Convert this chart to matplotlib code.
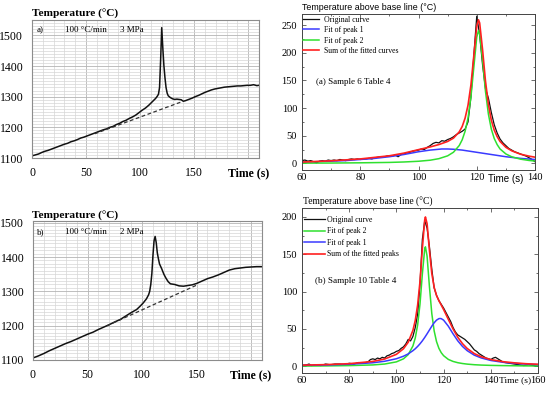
import matplotlib
matplotlib.use("Agg")
import matplotlib.pyplot as plt
from matplotlib.ticker import MultipleLocator

# ── Palette / fonts ──────────────────────────────────────────────────────────
SERIF = "Liberation Serif"
SANS = "Liberation Sans"
BLACK = "#111111"
BLUE = "#3a3aff"
GREEN = "#2fe02f"
RED = "#ff2020"
GRID_MINOR = "#d6d6d6"
GRID_MAJOR = "#b4b4b4"
FRAME = "#8c8c8c"

W, H = 550, 396

# ── Data: (a) 100 °C/min, 3 MPa ──────────────────────────────────────────────
time_a = [0, 3, 6, 9, 12, 15, 18, 21, 24, 27, 30, 33, 36, 39, 42, 45, 48, 51,
          54, 57, 60, 63, 66, 69, 72, 75, 78, 81, 84, 87, 90, 93, 96, 99, 102,
          105, 108, 110, 112, 114, 115, 116, 117, 118, 119, 120, 121, 122, 123,
          124, 125, 126, 128, 130, 132, 134, 136, 138, 140, 142, 145, 148, 151,
          154, 157, 160, 163, 166, 169, 172, 175, 178, 181, 184, 187, 190, 193,
          196, 199, 202, 205, 208, 210]
temp_a = [1107, 1110, 1113, 1118, 1122, 1125, 1129, 1133, 1137, 1141, 1145,
          1148, 1153, 1156, 1160, 1165, 1168, 1172, 1176, 1180, 1184, 1188,
          1192, 1195, 1200, 1203, 1209, 1213, 1219, 1223, 1229, 1234, 1240,
          1248, 1256, 1263, 1272, 1279, 1286, 1293, 1297, 1302, 1308, 1330,
          1420, 1525, 1460, 1402, 1362, 1330, 1312, 1303, 1297, 1293, 1291,
          1292, 1291, 1290, 1285, 1287, 1291, 1295, 1300, 1304, 1309, 1314,
          1318, 1322, 1325, 1327, 1329, 1331, 1332, 1333, 1334, 1335, 1335,
          1336, 1337, 1337, 1339, 1336, 1337]
base_a_t = [58, 139]
base_a_T = [1179, 1284]

# ── Data: (b) 100 °C/min, 2 MPa ──────────────────────────────────────────────
time_b = [0, 5, 10, 15, 20, 25, 30, 35, 40, 45, 50, 55, 60, 65, 70, 75, 80,
          85, 90, 95, 98, 101, 104, 106, 107, 108, 109, 110, 111, 112, 113, 114,
          115, 116, 118, 120, 122, 124, 126, 130, 134, 138, 142, 146, 150, 155,
          160, 165, 170, 175, 180, 185, 190, 195, 200, 205, 210]
temp_b = [1106, 1112, 1119, 1127, 1134, 1141, 1148, 1154, 1161, 1168, 1175,
          1181, 1189, 1196, 1203, 1211, 1218, 1228, 1238, 1247, 1256, 1266,
          1278, 1290, 1300, 1320, 1352, 1405, 1447, 1460, 1442, 1412, 1395,
          1380, 1366, 1350, 1338, 1328, 1322, 1320, 1316, 1315, 1317, 1319,
          1323, 1330, 1337, 1342, 1348, 1355, 1362, 1366, 1368, 1370, 1371,
          1372, 1372]
base_b_t = [68, 150]
base_b_T = [1200, 1318]

# ── Data: (a) Sample 6 Table 4 (peak fit) ────────────────────────────────────
orig_a_t = list(range(60, 141))
orig_a = [5, 6, 4, 5, 3, 1, 4, 5, 4, 6, 5, 6, 5, 7, 6, 5, 7, 8, 7, 8, 7, 8, 8,
          9, 8, 10, 11, 12, 11, 13, 14, 13, 15, 12, 16, 17, 19, 20, 22, 23, 24,
          26, 25, 29, 32, 36, 38, 37, 41, 40, 43, 45, 48, 52, 55, 58, 62, 75,
          120, 195, 266, 232, 178, 135, 118, 92, 70, 55, 44, 37, 32, 27, 24,
          21, 19, 17, 15, 13, 10, 7, 3]
fit1_a_t = [60, 65, 70, 75, 80, 85, 90, 95, 100, 104, 108, 110, 112, 115, 120,
            125, 130, 135, 140]
fit1_a = [2, 3, 4, 5, 7, 9, 12, 16, 21, 24, 26, 26, 25.5, 24, 20, 16, 12, 9, 7]
fit_a_t = [60, 70, 80, 90, 95, 100, 104, 107, 110, 112, 114, 115, 116, 117,
           118, 119, 120, 120.6, 121, 122, 123, 124, 125, 126, 127, 128, 130,
           132, 135, 138, 140]
fit2_a = [0.4, 0.6, 1.0, 1.7, 2.5, 3.8, 5.7, 8.5, 13.6, 20.1, 32.3, 42.6, 58,
          82, 120, 174, 228, 240, 234, 186, 130, 89, 62, 45, 34, 26, 17, 11.9,
          7.6, 5.2, 4.2]
sum_a = [2.4, 4.6, 8, 13.7, 18.5, 24.8, 29.7, 34, 39.6, 45.6, 57, 66.6, 81.8,
         105, 141.6, 194.8, 248, 259.5, 253.8, 205.2, 148.4, 106.6, 78, 60.2,
         48.4, 39.6, 29, 22.7, 16.6, 13, 11.2]

# ── Data: (b) Sample 10 Table 4 (peak fit) ───────────────────────────────────
orig_b_t = [60, 62, 63, 64, 66, 68, 70, 72, 74, 76, 78, 80, 82, 84, 86, 88, 89,
            90, 91, 92, 93, 94, 95, 96, 97, 98, 99, 100, 101, 102, 103, 104,
            105, 106, 107, 108, 109, 110, 111, 112, 113, 114, 115, 116, 117,
            118, 119, 120, 121, 122, 123, 124, 125, 126, 127, 128, 129, 130,
            131, 132, 133, 134, 135, 136, 137, 138, 139, 140, 141, 142, 143,
            144, 145, 146, 148, 150, 152, 154, 156, 158, 160]
orig_b = [1, 2, 3, 1, 2, 1, 3, 2, 3, 3, 2, 4, 3, 5, 4, 6, 9, 10, 9, 11, 10, 12,
          11, 14, 15, 17, 18, 20, 21, 24, 26, 30, 36, 34, 40, 52, 70, 110, 170,
          195, 185, 160, 130, 105, 95, 88, 83, 78, 72, 66, 60, 52, 46, 42, 40,
          38, 36, 33, 30, 26, 22, 20, 17, 15, 13, 11, 10, 9, 11, 12, 10, 8, 6,
          5, 4, 3, 2, 1, 2, 1, 0]
fit1_b_t = [60, 70, 80, 90, 95, 100, 103, 105, 107, 108, 109, 110, 111, 112,
            113, 114, 115, 116, 117, 118, 118.5, 119, 120, 122, 124, 126, 128,
            130, 133, 136, 140, 145, 150, 155, 160]
fit1_b = [1.2, 1.7, 2.7, 4.7, 6.7, 10.1, 13.5, 16.6, 20.9, 23.5, 26.6, 30.1,
          34.1, 38.6, 43.5, 48.6, 53.7, 58.3, 61.8, 63.8, 64, 63.8, 61.8, 53.7,
          43.5, 34.1, 26.6, 20.9, 14.9, 11.1, 7.8, 5.4, 3.9, 2.9, 2.3]
fit_b_t = [60, 70, 80, 90, 95, 100, 103, 105, 107, 108, 109, 110, 111, 112,
           112.3, 113, 114, 115, 116, 117, 118, 119, 120, 122, 124, 126, 128,
           130, 133, 136, 140, 145, 150, 155, 160]
fit2_b = [0.3, 0.5, 0.9, 1.8, 3.0, 5.9, 10, 15.6, 27.2, 38, 55.4, 83.4, 123.7,
          157.5, 160, 147.5, 106.5, 70.6, 47.4, 33.1, 24.1, 18.2, 14.2, 9.2,
          6.5, 4.8, 3.7, 2.9, 2.1, 1.6, 1.2, 0.9, 0.7, 0.5, 0.4]
sum_b = [1.5, 2.2, 3.5, 6.5, 9.7, 16, 23.5, 32.2, 48.1, 61.5, 82, 113.5, 157.8,
         196.1, 200, 191, 155.1, 124.3, 105.7, 94.9, 87.9, 82, 76, 62.9, 50,
         38.9, 30.3, 23.8, 17, 12.7, 9, 6.2, 4.6, 3.4, 2.7]


def rect(left, top, right, bottom):
    return [left / W, 1 - bottom / H, (right - left) / W, (bottom - top) / H]


def fx(x):
    return x / W


def fy(y):
    return 1 - y / H


def style_left(ax, ytop):
    ax.set_xlim(0, 210)
    ax.set_ylim(1100, ytop)
    ax.set_xticks([0, 50, 100, 150, 200])
    ax.set_xticklabels(["0", "50", "100", "150", "Time (s)"])
    ax.get_xticklabels()[-1].set_fontweight("bold")
    ax.set_yticks([1100, 1200, 1300, 1400, 1500])
    ax.xaxis.set_minor_locator(MultipleLocator(10))
    ax.yaxis.set_minor_locator(MultipleLocator(10))
    ax.grid(which="minor", color=GRID_MINOR, linewidth=0.5)
    ax.grid(which="major", color=GRID_MAJOR, linewidth=0.6)
    ax.set_axisbelow(True)
    ax.tick_params(which="both", length=0, labelsize=8.5)
    ax.tick_params(axis="x", pad=6.5)
    ax.tick_params(axis="y", pad=6.3)
    for lab in ax.get_xticklabels() + ax.get_yticklabels():
        lab.set_fontfamily(SERIF)
    for sp in ax.spines.values():
        sp.set_color(FRAME)
        sp.set_linewidth(0.8)


def style_right(ax, xlim, ylim, xmaj, ymaj):
    ax.set_xlim(*xlim)
    ax.set_ylim(*ylim)
    ax.xaxis.set_major_locator(MultipleLocator(xmaj))
    ax.xaxis.set_minor_locator(MultipleLocator(xmaj / 2))
    ax.yaxis.set_major_locator(MultipleLocator(ymaj))
    ax.yaxis.set_minor_locator(MultipleLocator(ymaj / 2))
    ax.tick_params(which="both", direction="in", top=True, right=True,
                   labelsize=7.5, width=0.6, color="#555555")
    ax.tick_params(which="major", length=3)
    ax.tick_params(which="minor", length=1.6)
    ax.tick_params(axis="x", pad=2)
    ax.tick_params(axis="y", pad=3.5)
    for lab in ax.get_xticklabels() + ax.get_yticklabels():
        lab.set_fontfamily(SERIF)
    for sp in ax.spines.values():
        sp.set_color("#444444")
        sp.set_linewidth(0.7)


fig = plt.figure(figsize=(W / 100, H / 100), dpi=100, facecolor="white")

# ── (a) temperature record ───────────────────────────────────────────────────
ax1 = fig.add_axes(rect(32, 20, 259, 158))
ax1.plot(time_a, temp_a, color=BLACK, linewidth=1.1)
ax1.plot(base_a_t, base_a_T, color="#333333", linewidth=0.9, linestyle=(0, (3, 2)))
style_left(ax1, 1550)
fig.text(fx(32), fy(14), "Temperature (°C)", family=SERIF, weight="bold",
         fontsize=8.2, va="center", ha="left")
fig.text(fx(37), fy(30), "a)", family=SERIF, fontsize=6.5, va="center")
fig.text(fx(65), fy(30), "100 °C/min", family=SERIF, fontsize=6.5, va="center")
fig.text(fx(120), fy(30), "3 MPa", family=SERIF, fontsize=6.5, va="center")

# ── (b) temperature record ───────────────────────────────────────────────────
ax2 = fig.add_axes(rect(33, 221, 262, 360))
ax2.plot(time_b, temp_b, color=BLACK, linewidth=1.1)
ax2.plot(base_b_t, base_b_T, color="#333333", linewidth=0.9, linestyle=(0, (3, 2)))
style_left(ax2, 1505)
fig.text(fx(32), fy(216), "Temperature (°C)", family=SERIF, weight="bold",
         fontsize=8.2, va="center", ha="left")
fig.text(fx(37), fy(232), "b)", family=SERIF, fontsize=6.5, va="center")
fig.text(fx(65), fy(232), "100 °C/min", family=SERIF, fontsize=6.5, va="center")
fig.text(fx(120), fy(232), "2 MPa", family=SERIF, fontsize=6.5, va="center")

# ── (a) Sample 6 fit ─────────────────────────────────────────────────────────
ax3 = fig.add_axes(rect(302, 14, 535, 170))
h_o, = ax3.plot(orig_a_t, orig_a, color=BLACK, linewidth=0.9)
h_1, = ax3.plot(fit1_a_t, fit1_a, color=BLUE, linewidth=1.1)
h_2, = ax3.plot(fit_a_t, fit2_a, color=GREEN, linewidth=1.1)
h_s, = ax3.plot(fit_a_t, sum_a, color=RED, linewidth=1.2)
style_right(ax3, (60, 140), (-12, 270), 20, 50)
ax3.legend([h_o, h_1, h_2, h_s],
           ["Original curve", "Fit of peak 1", "Fit of peak 2",
            "Sum of the fitted curves"],
           loc="upper left", bbox_to_anchor=(0.0, 0.995), frameon=False,
           prop={"family": SERIF, "size": 5.6}, handlelength=2.1,
           handletextpad=0.6, labelspacing=0.32, borderpad=0.1,
           borderaxespad=0.0)
ax3.text(0.059, 0.566, "(a) Sample 6 Table 4", transform=ax3.transAxes,
         family=SERIF, fontsize=6.5, va="center")
ax3.text(130, -0.025, "Time (s)", transform=ax3.get_xaxis_transform(),
         family=SANS, fontsize=7.0, ha="center", va="top")
fig.text(fx(302), fy(8), "Temperature above base line (°C)", family=SANS,
         fontsize=6.4, va="center", ha="left")

# ── (b) Sample 10 fit ────────────────────────────────────────────────────────
ax4 = fig.add_axes(rect(302, 208, 538, 373))
g_o, = ax4.plot(orig_b_t, orig_b, color=BLACK, linewidth=0.9)
g_2, = ax4.plot(fit_b_t, fit2_b, color=GREEN, linewidth=1.1)
g_1, = ax4.plot(fit1_b_t, fit1_b, color=BLUE, linewidth=1.1)
g_s, = ax4.plot(fit_b_t, sum_b, color=RED, linewidth=1.2)
style_right(ax4, (60, 160), (-9, 212), 20, 50)
ax4.legend([g_o, g_2, g_1, g_s],
           ["Original curve", "Fit of peak 2", "Fit of peak 1",
            "Sum of the fitted peaks"],
           loc="upper left", bbox_to_anchor=(0.005, 0.957), frameon=False,
           prop={"family": SERIF, "size": 5.6}, handlelength=2.7,
           handletextpad=0.3, labelspacing=0.45, borderpad=0.1,
           borderaxespad=0.0)
ax4.text(0.054, 0.56, "(b) Sample 10 Table 4", transform=ax4.transAxes,
         family=SERIF, fontsize=6.6, va="center")
ax4.text(150.3, -0.02, "Time (s)", transform=ax4.get_xaxis_transform(),
         family=SERIF, fontsize=6.8, ha="center", va="top")
fig.text(fx(303), fy(202), "Temperature above base line (°C)", family=SERIF,
         fontsize=6.9, va="center", ha="left")

fig.savefig("out.png", dpi=100, facecolor="white")
plt.close(fig)
